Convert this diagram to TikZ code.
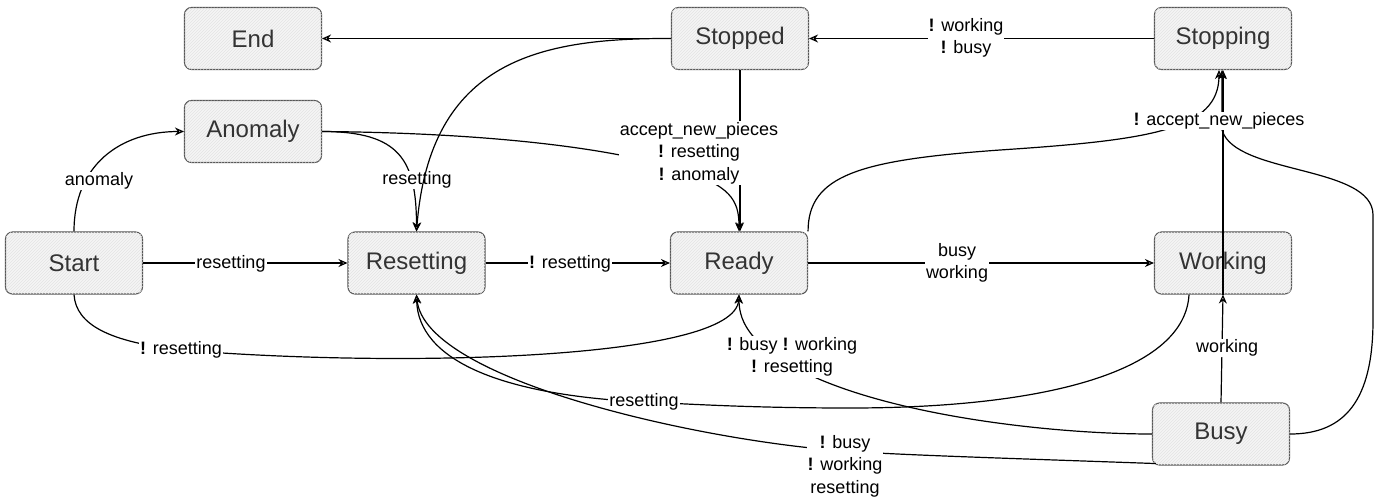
\documentclass[tikz,border=0pt]{standalone}
\usepackage{fontspec}
\setmainfont{Liberation Sans}
\usetikzlibrary{arrows.meta,patterns,calc}
\definecolor{txt}{HTML}{333333}
\definecolor{bord}{HTML}{555555}
\begin{document}
\begin{tikzpicture}[x=1pt,y=-1pt,
  state/.style={draw=bord, line width=1.1pt, rounded corners=7pt, fill=gray!8,
    minimum width=137pt, minimum height=62pt, text=txt,
    font=\fontsize{24}{28}\selectfont,
    postaction={pattern=north east lines, pattern color=gray!22}},
  edge/.style={draw=black, line width=1.2pt, -{Stealth[open,length=9pt,width=8pt]}},
  lbl/.style={fill=white, inner sep=1pt, font=\fontsize{18}{22.5}\selectfont, align=center, text=black}]
\useasboundingbox (0,0) rectangle (1383,501);

\node[state] (nEnd) at (253,38.5) {End};
\node[state] (nStopped) at (740,38.5) {Stopped};
\node[state] (nStopping) at (1223,38.5) {Stopping};
\node[state] (nAnomaly) at (253,131.5) {Anomaly};
\node[state] (nStart) at (74,263) {Start};
\node[state] (nResetting) at (416.5,263) {Resetting};
\node[state] (nReady) at (739,263) {Ready};
\node[state] (nWorking) at (1223,263) {Working};
\node[state] (nBusy) at (1221,434) {Busy};

% edges passing behind other labels first
\draw[edge] (nAnomaly.east) .. controls (500,133) and (620,150) .. (680,170)
  .. controls (730,185) and (739,200) .. (nReady.north);
\draw[edge] (nReady.north east) .. controls (808,175) and (860,160) .. (1000,150)
  .. controls (1150,140) and (1219,130) .. (1219,70);
\draw[edge] (nBusy.east) .. controls (1345,434) and (1373,400) .. (1373,320)
  -- (1373,215) .. controls (1373,165) and (1235,175) .. (1222,130) -- (1222,70);

\draw[edge] (nStopped.west) -- (nEnd.east);
\draw[edge] (nStopping.west) -- (nStopped.east)
  node[lbl] at (966,38) {\textbf{!} working\\\textbf{!} busy};
\draw[edge] (nStart.north) .. controls (74,165) and (120,131.5) .. (nAnomaly.west)
  node[lbl] at (99,181) {anomaly};
\draw[edge] (nAnomaly.east) .. controls (400,131.5) and (416.5,160) .. (nResetting.north)
  node[lbl] at (417,180) {resetting};
\draw[edge] (nStopped.west) .. controls (540,38) and (430,60) .. (nResetting.north);
\draw[edge] (nStopped.south) -- (nReady.north -| nStopped.south)
  node[lbl] at (699,153) {accept\_new\_pieces\\\textbf{!} resetting\\\textbf{!} anomaly};
\draw[edge] (nStart.east) -- (nResetting.west) node[lbl] at (231,264) {resetting};
\draw[edge] (nResetting.east) -- (nReady.west)
  node[lbl] at (570,264) {\textbf{!} resetting};
\draw[edge] (nReady.east) -- (nWorking.west) node[lbl] at (957,263) {busy\\working};
\draw[edge] (nStart.south) .. controls (76,325) and (110,342) .. (181,350)
  node[lbl] {\textbf{!} resetting}
  .. controls (400,368) and (735,360) .. (nReady.south);
\draw[edge] (nWorking.south) -- (nStopping.south)
  node[lbl] at (1219,121) {\textbf{!} accept\_new\_pieces};
\draw[edge] (nBusy.north) -- (nWorking.south) node[lbl] at (1227,348) {working};
\draw[edge] ($(nWorking.south)+(-34,0)$) .. controls (1185,370) and (1050,408) .. (850,408)
  .. controls (750,408) and (690,404) .. (644,402) node[lbl] {resetting}
  .. controls (500,395) and (418,360) .. (nResetting.south);
\draw[edge] (nBusy.west) .. controls (1050,434) and (880,415) .. (792,366)
  node[lbl, yshift=9pt] {\textbf{!} busy \textbf{!} working\\\textbf{!} resetting}
  .. controls (755,345) and (739,325) .. (nReady.south);
\draw[edge] ($(nBusy.south west)+(4,-2)$) .. controls (1000,458) and (900,455) .. (845,451)
  node[lbl, yshift=-15pt] {\textbf{!} busy\\\textbf{!} working\\resetting}
  .. controls (700,441) and (425,380) .. (nResetting.south);
\end{tikzpicture}
\end{document}
